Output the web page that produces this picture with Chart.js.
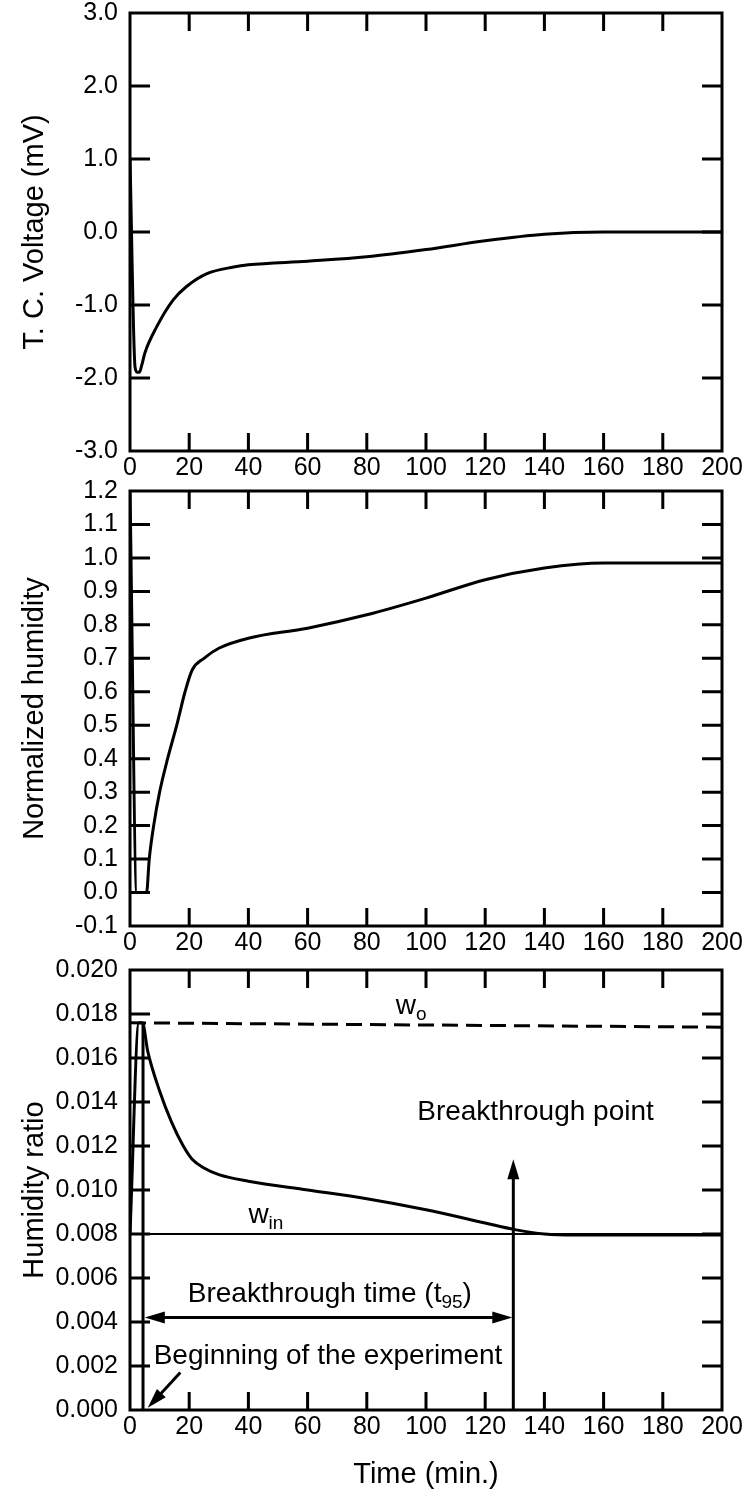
<!DOCTYPE html>
<html>
<head>
<meta charset="utf-8">
<title>Breakthrough test</title>
<script src="https://cdn.jsdelivr.net/npm/chart.js@4.4.1/dist/chart.umd.min.js"></script>
<style>
    html, body { margin: 0; padding: 0; background: #fff; }
    body { width: 747px; height: 1496px; position: relative; overflow: hidden; }
    canvas { position: absolute; left: 0; }
</style>
</head>
<body>
<canvas id="tc-chart" width="747" height="511" style="top:-20px"></canvas>
<canvas id="rh-chart" width="747" height="505" style="top:461px"></canvas>
<canvas id="w-chart" width="747" height="556" style="top:940px"></canvas>
<script>
// Time axis (min), shared by the three panels
const timeMin = 0;
const timeMax = 200;
const timeStep = 20;

// Thermocouple voltage (mV)
const tcTime    = [0, 1.7, 2.4, 3.2, 4.0, 5, 9, 14.6, 19, 26, 35, 40, 60, 80, 100, 120, 140, 160, 200];
const tcVoltage = [1.0, -1.85, -1.92, -1.92, -1.82, -1.66, -1.3, -0.93, -0.75, -0.57, -0.48, -0.45, -0.40, -0.34, -0.24, -0.12, -0.03, 0.0, 0.0];

// Normalized humidity at the outlet
const rhTime  = [0, 2.3, 5.6, 6.5, 8, 10, 12.7, 15.8, 18.6, 21, 25, 30, 40, 60, 80, 100, 120, 140, 160, 200];
const rhValue = [1.2, 0.0, 0.0, 0.1, 0.2, 0.3, 0.4, 0.5, 0.6, 0.665, 0.70, 0.73, 0.76, 0.79, 0.83, 0.88, 0.935, 0.97, 0.985, 0.985];

// Outlet humidity ratio
const wTime  = [0, 3, 4.2, 6, 10, 14, 18, 21, 25, 30, 40, 60, 80, 100, 120, 130, 140, 150, 200];
const wRatio = [0.0080, 0.0176, 0.0176, 0.0163, 0.0145, 0.0131, 0.0120, 0.0114, 0.0110, 0.0107, 0.0104, 0.0100, 0.0096, 0.0091, 0.0085, 0.0082, 0.0080, 0.00795, 0.00795];

// Reference levels: w_o (dashed) and w_in
const wOutTime = [0, 200];
const wOut     = [0.0176, 0.0174];
const wInTime  = [0, 200];
const wIn      = [0.0080, 0.0080];

// Start of the experiment and breakthrough point
const startTime = 4.4;
const startTop = 0.0176;
const breakTime = 129.5;
const breakArrowTop = 0.0114;
const spanStart = 5;
const spanLevel = 0.0042;

Chart.defaults.font.family = '"Liberation Sans", Arial, sans-serif';
Chart.defaults.color = '#000';

function points(xs, ys) {
    return xs.map((x, i) => ({ x: x, y: ys[i] }));
}

// Box around the plot with inward ticks on all four sides
const frameTicks = {
    id: 'frameTicks',
    afterDatasetsDraw(chart) {
        const { ctx, chartArea: a, scales: { x, y } } = chart;
        ctx.save();
        ctx.strokeStyle = '#000';
        ctx.lineWidth = 3;
        ctx.strokeRect(a.left, a.top, a.right - a.left, a.bottom - a.top);
        ctx.beginPath();
        x.ticks.forEach(t => {
            const px = x.getPixelForValue(t.value);
            if (px <= a.left + 1 || px >= a.right - 1) return;
            ctx.moveTo(px, a.top); ctx.lineTo(px, a.top + 18);
            ctx.moveTo(px, a.bottom); ctx.lineTo(px, a.bottom - 18);
        });
        y.ticks.forEach(t => {
            const py = y.getPixelForValue(t.value);
            if (py <= a.top + 1 || py >= a.bottom - 1) return;
            ctx.moveTo(a.left, py); ctx.lineTo(a.left + 20, py);
            ctx.moveTo(a.right, py); ctx.lineTo(a.right - 20, py);
        });
        ctx.stroke();
        ctx.restore();
    }
};

function arrowHead(ctx, x, y, angle) {
    const len = 20, half = 6;
    const c = Math.cos(angle), s = Math.sin(angle);
    ctx.beginPath();
    ctx.moveTo(x, y);
    ctx.lineTo(x - len * c + half * s, y - len * s - half * c);
    ctx.lineTo(x - len * c - half * s, y - len * s + half * c);
    ctx.closePath();
    ctx.fill();
}

// Text with subscript pieces: parts = [[text, isSub], ...]
function subText(ctx, parts, x, y, align) {
    const big = '28px "Liberation Sans", Arial, sans-serif';
    const small = '19px "Liberation Sans", Arial, sans-serif';
    let total = 0;
    parts.forEach(p => { ctx.font = p[1] ? small : big; total += ctx.measureText(p[0]).width; });
    let cx = align === 'center' ? x - total / 2 : x;
    ctx.textAlign = 'left';
    ctx.textBaseline = 'alphabetic';
    parts.forEach(p => {
        ctx.font = p[1] ? small : big;
        ctx.fillText(p[0], cx, p[1] ? y + 6 : y);
        cx += ctx.measureText(p[0]).width;
    });
}

// Labels and arrows of the humidity ratio panel
const breakthroughNotes = {
    id: 'breakthroughNotes',
    afterDatasetsDraw(chart) {
        const { ctx, scales: { x, y } } = chart;
        ctx.save();
        ctx.fillStyle = '#000';
        ctx.strokeStyle = '#000';
        ctx.lineWidth = 3;

        // vertical arrow at the breakthrough point
        const bx = x.getPixelForValue(breakTime);
        const by0 = y.getPixelForValue(0);
        const by1 = y.getPixelForValue(breakArrowTop);
        ctx.beginPath(); ctx.moveTo(bx, by0); ctx.lineTo(bx, by1 + 10); ctx.stroke();
        arrowHead(ctx, bx, by1, -Math.PI / 2);

        // breakthrough time span
        const sx = x.getPixelForValue(spanStart);
        const sy = y.getPixelForValue(spanLevel);
        ctx.beginPath(); ctx.moveTo(sx + 10, sy); ctx.lineTo(bx - 10, sy); ctx.stroke();
        arrowHead(ctx, sx, sy, Math.PI);
        arrowHead(ctx, bx - 1, sy, 0);

        // pointer to the start of the experiment
        const px0 = x.getPixelForValue(17), py0 = y.getPixelForValue(0.0017);
        const px1 = x.getPixelForValue(6), py1 = y.getPixelForValue(0.0001);
        const ang = Math.atan2(py1 - py0, px1 - px0);
        ctx.beginPath(); ctx.moveTo(px0, py0); ctx.lineTo(px1 - 10 * Math.cos(ang), py1 - 10 * Math.sin(ang)); ctx.stroke();
        arrowHead(ctx, px1, py1, ang);

        subText(ctx, [['w'], ['o', true]], x.getPixelForValue(95), y.getPixelForValue(0.0180), 'center');
        subText(ctx, [['w'], ['in', true]], x.getPixelForValue(40), y.getPixelForValue(0.0085), 'left');
        subText(ctx, [['Breakthrough point']], x.getPixelForValue(137), y.getPixelForValue(0.0132), 'center');
        subText(ctx, [['Breakthrough time (t'], ['95', true], [')']], x.getPixelForValue(67.5), y.getPixelForValue(0.0049), 'center');
        subText(ctx, [['Beginning of the experiment']], x.getPixelForValue(8), y.getPixelForValue(0.0021), 'left');
        ctx.restore();
    }
};

function makePanel(canvasId, cfg) {
    return new Chart(document.getElementById(canvasId), {
        type: 'line',
        data: { datasets: cfg.datasets },
        options: {
            responsive: false,
            animation: false,
            events: [],
            layout: { padding: { top: cfg.padTop, right: 25, left: 0, bottom: 0 } },
            plugins: { legend: { display: false }, tooltip: { enabled: false } },
            elements: {
                point: { radius: 0 },
                line: { borderColor: '#000', borderWidth: 3, cubicInterpolationMode: 'monotone', fill: false }
            },
            scales: {
                x: {
                    type: 'linear',
                    min: timeMin,
                    max: timeMax,
                    afterFit: s => { s.height = cfg.xHeight; },
                    grid: { display: false, drawTicks: false },
                    border: { display: false },
                    ticks: { stepSize: timeStep, padding: 2, maxRotation: 0, autoSkip: false, font: { size: 25 } },
                    title: {
                        display: !!cfg.xTitle,
                        text: cfg.xTitle || '',
                        font: { size: 29 },
                        padding: { top: 0, bottom: 4 }
                    }
                },
                y: {
                    type: 'linear',
                    min: cfg.yMin,
                    max: cfg.yMax,
                    afterFit: s => { s.width = 130; },
                    grid: { display: false, drawTicks: false },
                    border: { display: false },
                    ticks: {
                        stepSize: cfg.yStep,
                        padding: 12,
                        autoSkip: false,
                        font: { size: 25 },
                        callback: v => (Math.abs(v) < 1e-9 ? 0 : v).toFixed(cfg.digits)
                    },
                    title: {
                        display: true,
                        text: cfg.yTitle,
                        font: { size: 29 },
                        padding: { top: 18, bottom: 0 }
                    }
                }
            }
        },
        plugins: [frameTicks].concat(cfg.extra || [])
    });
}

makePanel('tc-chart', {
    padTop: 33, xHeight: 40,
    yMin: -3, yMax: 3, yStep: 1, digits: 1,
    yTitle: 'T. C. Voltage (mV)',
    datasets: [{ data: points(tcTime, tcVoltage) }]
});

makePanel('rh-chart', {
    padTop: 30, xHeight: 40,
    yMin: -0.1, yMax: 1.2, yStep: 0.1, digits: 1,
    yTitle: 'Normalized humidity',
    datasets: [{ data: points(rhTime, rhValue) }]
});

makePanel('w-chart', {
    padTop: 30, xHeight: 86,
    yMin: 0, yMax: 0.02, yStep: 0.002, digits: 3,
    yTitle: 'Humidity ratio',
    xTitle: 'Time (min.)',
    datasets: [
        { data: points(wTime, wRatio) },
        { data: points(wOutTime, wOut), borderDash: [16, 8], cubicInterpolationMode: 'default', tension: 0 },
        { data: points(wInTime, wIn), borderWidth: 2, cubicInterpolationMode: 'default', tension: 0 },
        { data: points([startTime, startTime], [0, startTop]), cubicInterpolationMode: 'default', tension: 0 }
    ],
    extra: [breakthroughNotes]
});
</script>
</body>
</html>
